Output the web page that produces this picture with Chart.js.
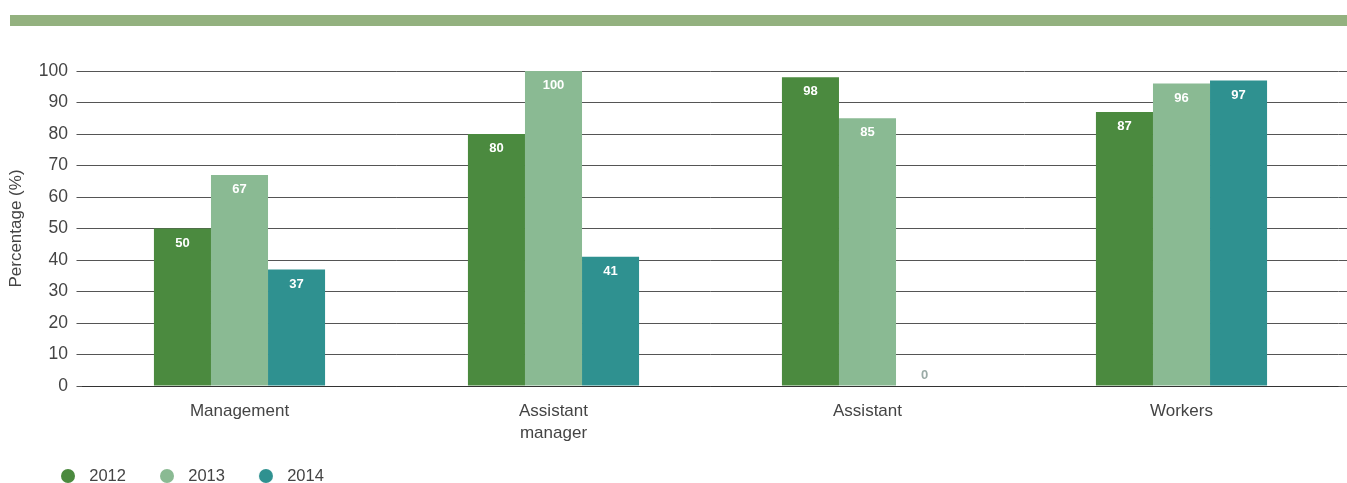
<!DOCTYPE html>
<html>
<head>
<meta charset="utf-8">
<title>Percentage by position, 2012–2014</title>
<script src="https://cdn.jsdelivr.net/npm/chart.js@4.4.1/dist/chart.umd.min.js"></script>
<style>
  html, body { margin: 0; padding: 0; background: #ffffff; }
  #wrap { position: relative; width: 1347px; height: 483px; }
  #band { position: absolute; left: 10px; top: 15px; width: 1337px; height: 11px; background: #93b17f; }
  #chart { position: absolute; left: 0; top: 0; }
</style>
</head>
<body>
<div id="wrap">
  <div id="band"></div>
  <canvas id="chart" width="1347" height="483"></canvas>
</div>
<script>
// Categories and yearly percentages
const categories = ['Management', ['Assistant', 'manager'], 'Assistant', 'Workers'];
const years = ['2012', '2013', '2014'];
const values2012 = [50, 80, 98, 87];
const values2013 = [67, 100, 85, 96];
const values2014 = [37, 41, 0, 97];
const yTicks = [0, 10, 20, 30, 40, 50, 60, 70, 80, 90, 100];

const colors = ['#4b8a3f', '#8aba93', '#2f9190'];
const textColor = '#444444';
const gridColor = '#555555';
const fontFamily = '"Liberation Sans", Arial, Helvetica, sans-serif';

// Legend marker: a filled circle placed toward the right of a wider box
function legendDot(color) {
  const c = document.createElement('canvas');
  c.width = 34; c.height = 14;
  const g = c.getContext('2d');
  g.fillStyle = color;
  g.beginPath();
  g.arc(21, 7, 7, 0, Math.PI * 2);
  g.fill();
  return c;
}

// Same pixel snapping Chart.js uses for its own grid lines
function alignPixel(p, w) {
  const h = w / 2;
  return Math.round(p - h) + h;
}

// Grid lines continue past the plot area to the right edge of the canvas
const gridExtension = {
  id: 'gridExtension',
  beforeDatasetsDraw(chart) {
    const { ctx, chartArea, scales } = chart;
    const y = scales.y;
    ctx.save();
    ctx.strokeStyle = gridColor;
    ctx.lineWidth = 1;
    y.ticks.forEach((t, i) => {
      const py = alignPixel(y.getPixelForTick(i), 1);
      ctx.beginPath();
      ctx.moveTo(chartArea.right, py);
      ctx.lineTo(chart.width, py);
      ctx.stroke();
    });
    ctx.restore();
  }
};

// Value labels inside the top of each bar
const barValues = {
  id: 'barValues',
  afterDatasetsDraw(chart) {
    const { ctx } = chart;
    ctx.save();
    ctx.textAlign = 'center';
    ctx.textBaseline = 'middle';
    ctx.font = 'bold 13px ' + fontFamily;
    chart.data.datasets.forEach((ds, di) => {
      const meta = chart.getDatasetMeta(di);
      meta.data.forEach((bar, i) => {
        const v = ds.data[i];
        if (v > 0) {
          ctx.fillStyle = '#ffffff';
          ctx.fillText(String(v), bar.x, bar.y + 14.5);
        } else {
          ctx.fillStyle = '#9aaaa6';
          ctx.fillText(String(v), bar.x, bar.base - 11);
        }
      });
    });
    ctx.restore();
  }
};

const seriesValues = [values2012, values2013, values2014];

new Chart(document.getElementById('chart'), {
  type: 'bar',
  data: {
    labels: categories,
    datasets: years.map((yr, i) => ({
      label: yr,
      data: seriesValues[i],
      backgroundColor: colors[i],
      borderWidth: 0,
      categoryPercentage: 0.545,
      barPercentage: 1.0,
      pointStyle: legendDot(colors[i])
    }))
  },
  options: {
    responsive: false,
    animation: false,
    layout: { padding: { top: 71, right: 8.5, left: 27, bottom: 0 } },
    plugins: {
      tooltip: { enabled: false },
      legend: {
        position: 'bottom',
        align: 'start',
        maxHeight: 35.25,
        labels: {
          usePointStyle: true,
          pointStyleWidth: 34,
          padding: 20,
          color: textColor,
          font: { family: fontFamily, size: 16.5 }
        }
      }
    },
    scales: {
      x: {
        grid: { display: false, drawTicks: false },
        border: { display: true, color: '#333333', width: 1 },
        ticks: {
          color: textColor,
          padding: 14,
          font: { family: fontFamily, size: 17, lineHeight: 1.3 }
        },
        afterFit(scale) { scale.height = 61.75; }
      },
      y: {
        min: 0,
        max: 100,
        afterBuildTicks(scale) { scale.ticks = yTicks.map(v => ({ value: v })); },
        grid: { color: gridColor, lineWidth: 1, drawTicks: true, tickLength: 6 },
        border: { display: false },
        ticks: {
          color: textColor,
          padding: 8.5,
          font: { family: fontFamily, size: 17.5 }
        },
        title: {
          display: true,
          text: 'Percentage (%)',
          color: textColor,
          font: { family: fontFamily, size: 17 },
          padding: { top: -20.5, bottom: 0 }
        },
        afterFit(scale) { scale.width = 55.5; }
      }
    }
  },
  plugins: [gridExtension, barValues]
});
</script>
</body>
</html>
